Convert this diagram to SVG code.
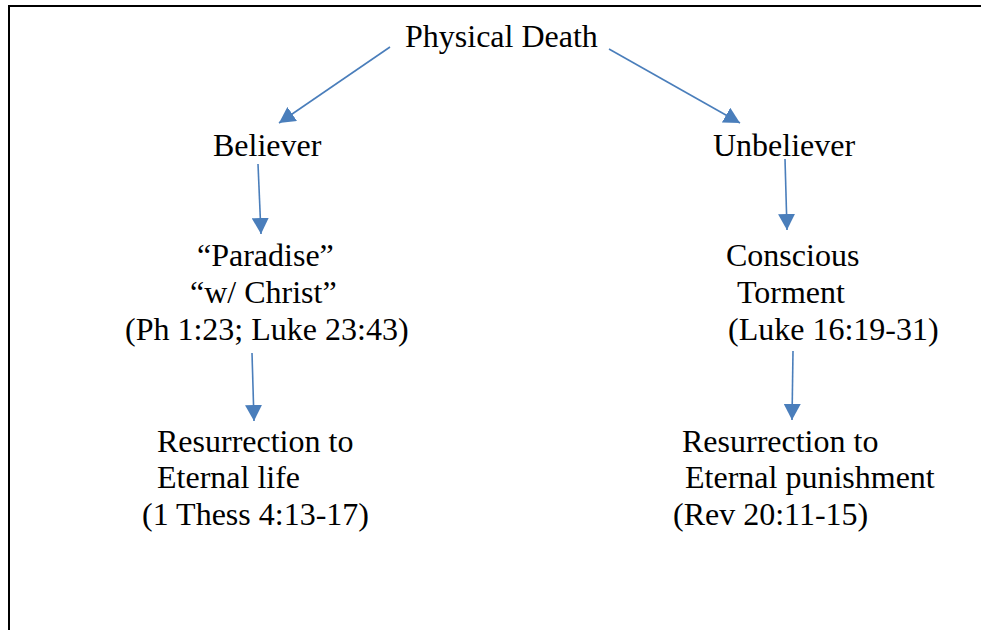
<svg xmlns="http://www.w3.org/2000/svg" width="981" height="630" viewBox="0 0 981 630">
<style>
text{font-family:'Liberation Serif',serif;font-size:32px;fill:#000}
.c{stroke:#4a7ebb;stroke-width:1.6;fill:none}
</style>
<defs>
<marker id="ah" markerUnits="userSpaceOnUse" markerWidth="17" markerHeight="17" refX="16" refY="8.5" orient="auto">
<path d="M0,0 L16,8.5 L0,17 z" fill="#4a7ebb"/>
</marker>
</defs>
<rect x="0" y="0" width="981" height="630" fill="#fff"/>
<rect x="9" y="6" width="1000" height="700" fill="none" stroke="#000" stroke-width="2"/>
<g id="connectors">
<line class="c" x1="390" y1="47" x2="279" y2="123" marker-end="url(#ah)"/>
<line class="c" x1="609" y1="49" x2="740" y2="123" marker-end="url(#ah)"/>
<line class="c" x1="258" y1="164" x2="261" y2="234" marker-end="url(#ah)"/>
<line class="c" x1="785" y1="159" x2="787" y2="230" marker-end="url(#ah)"/>
<line class="c" x1="252" y1="353" x2="254" y2="421" marker-end="url(#ah)"/>
<line class="c" x1="793" y1="351" x2="792" y2="420" marker-end="url(#ah)"/>
</g>
<g id="physical-death"><text x="405" y="47">Physical Death</text></g>
<g id="believer"><text x="213" y="156">Believer</text></g>
<g id="unbeliever"><text x="713" y="156">Unbeliever</text></g>
<g id="paradise">
<text x="197" y="266">“Paradise”</text>
<text x="190" y="303">“w/ Christ”</text>
<text x="125" y="340">(Ph 1:23; Luke 23:43)</text>
</g>
<g id="torment">
<text x="726" y="266">Conscious</text>
<text x="737" y="303">Torment</text>
<text x="728" y="340">(Luke 16:19-31)</text>
</g>
<g id="eternal-life">
<text x="157" y="452">Resurrection to</text>
<text x="157" y="488">Eternal life</text>
<text x="142" y="525">(1 Thess 4:13-17)</text>
</g>
<g id="eternal-punishment">
<text x="682" y="452">Resurrection to</text>
<text x="685" y="488">Eternal punishment</text>
<text x="673" y="525">(Rev 20:11-15)</text>
</g>
</svg>
